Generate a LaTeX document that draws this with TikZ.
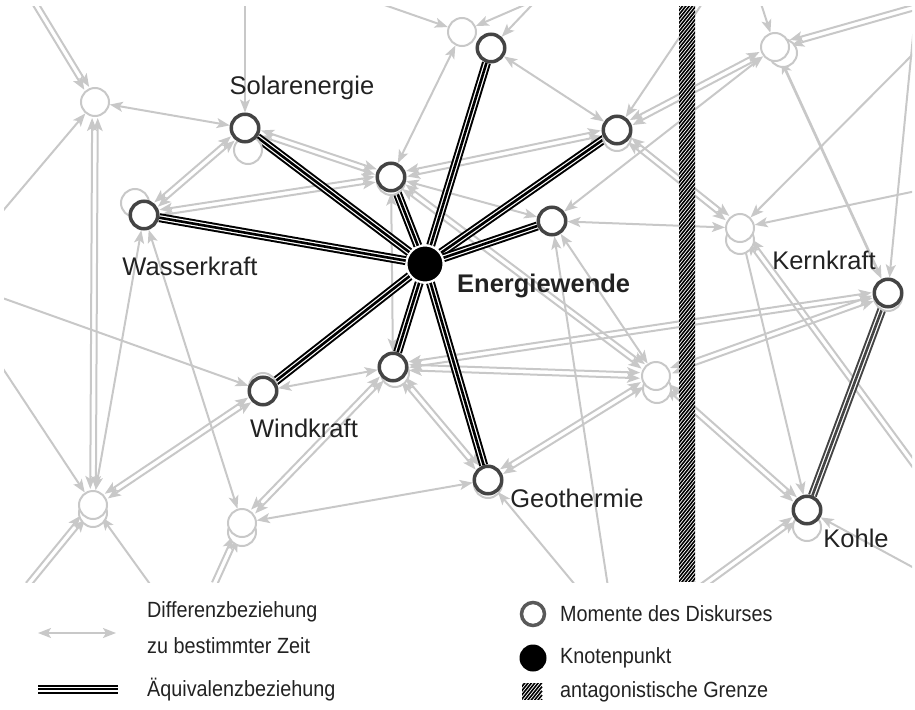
\documentclass[tikz,border=0pt]{standalone}
\usepackage{fontspec}
\setmainfont{Liberation Sans}
\newfontfamily\legendfont[FakeStretch=0.9]{Liberation Sans}
\usetikzlibrary{arrows.meta,calc}
\definecolor{diffGray}{HTML}{C8C8C8}
\definecolor{ringGray}{HTML}{444444}
\definecolor{labelGray}{HTML}{222222}
\pgfdeclarelayer{diffs}
\pgfdeclarelayer{equivs}
\pgfsetlayers{diffs,equivs,main}

% two parallel difference lines between two points
\newcommand{\pairline}[3][<->]{%
  \draw[diff,#1,shorten <=16pt,shorten >=16pt]
    ($(#2)!2.8pt!90:(#3)$) -- ($(#3)!2.8pt!-90:(#2)$);
  \draw[diff,#1,shorten <=16pt,shorten >=16pt]
    ($(#2)!2.8pt!-90:(#3)$) -- ($(#3)!2.8pt!90:(#2)$);
}

\begin{document}
\begin{tikzpicture}[x=1pt,y=-1pt,
  font=\fontsize{25.5}{28}\selectfont,
  >={Stealth[length=13pt,width=10pt,inset=3pt]},
  moment/.style={circle, draw=ringGray, line width=3.5pt, fill=white, minimum size=27.5pt, inner sep=0pt},
  ghost/.style={circle, draw=diffGray, line width=2pt, fill=white, minimum size=28pt, inner sep=0pt},
  hubnode/.style={circle, draw=white, line width=2pt, fill=black, minimum size=37pt, inner sep=0pt},
  diff/.style={draw=diffGray, line width=2pt},
  equiv/.style={draw=black, line width=9pt,
    postaction={draw=white, line width=5pt},
    postaction={draw=black, line width=2.6pt}},
  equivdark/.style={draw=ringGray, line width=9pt,
    postaction={draw=white, line width=5pt},
    postaction={draw=ringGray, line width=2.6pt}},
  label/.style={text=labelGray, inner sep=1pt},
  legtext/.style={text=labelGray, anchor=west, inner sep=0pt, font=\legendfont\fontsize{22}{24}\selectfont}
]
\useasboundingbox (0,0) rectangle (915,709);

% free ends outside the drawing area
\coordinate (e1) at (24,-15);
\coordinate (e2) at (245,-15);
\coordinate (e3) at (330,-14);
\coordinate (e4) at (566,-13);
\coordinate (e5) at (550,-14);
\coordinate (e6) at (714,-14);
\coordinate (e7) at (755,-15);
\coordinate (e8) at (972,-9);
\coordinate (e9) at (918,-15);
\coordinate (e10) at (935,32);
\coordinate (r1) at (940,186);
\coordinate (r2) at (935,493);
\coordinate (b6) at (940,582);
\coordinate (l1) at (-15,232);
\coordinate (l2) at (-20,290);
\coordinate (l3) at (-10,349);
\coordinate (b1) at (18,597);
\coordinate (b2) at (160,598);
\coordinate (b3) at (208,598);
\coordinate (b4) at (586,598);
\coordinate (b5) at (686,598);
\coordinate (b7) at (610,600);

% shadows
\node[ghost] (solar-sh) at (248,150) {};
\node[ghost] (wasser-sh) at (135,203) {};
\node[ghost] (tc-sh) at (391,181) {};
\node[ghost] (ru-sh) at (617,137) {};
\node[ghost] (wind-sh) at (263,387) {};
\node[ghost] (lc-sh) at (395,373) {};
\node[ghost] (geo-sh) at (488,484) {};
\node[ghost] (kern-sh) at (888,297) {};
\node[ghost] (kohle-sh) at (807,527) {};
\node[ghost] (tr-sh) at (783,53) {};
\node[ghost] (rm-sh) at (740,240) {};
\node[ghost] (bb-sh) at (657,389) {};
\node[ghost] (bl-sh) at (93,513) {};
\node[ghost] (bc-sh) at (242,532) {};

% moments
\node[ghost] (tl) at (95,102) {};
\node[ghost] (tlt) at (462,32) {};
\node[ghost] (tr) at (775,47) {};
\node[ghost] (rm) at (740,228) {};
\node[ghost] (bb) at (656,376) {};
\node[ghost] (bl) at (93,505) {};
\node[ghost] (bc) at (242,523) {};
\node[moment] (solar) at (245,128) {};
\node[moment] (wasser) at (144,215) {};
\node[moment] (tc) at (391,177) {};
\node[moment] (top) at (491,48) {};
\node[moment] (ru) at (617,130) {};
\node[moment] (mr) at (552,221) {};
\node[moment] (wind) at (263,391) {};
\node[moment] (lc) at (393,367) {};
\node[moment] (geo) at (488,480) {};
\node[moment] (kern) at (888,293) {};
\node[moment] (kohle) at (807,510) {};
\node[hubnode] (hub) at (425,264) {};

% labels
\node[label] (lab-solar) at (302,88) {Solarenergie};
\node[label] (lab-wasser) at (190,266) {Wasserkraft};
\node[label, anchor=west, font=\fontsize{25.5}{28}\selectfont\bfseries] (lab-hub) at (456,286) {Energiewende};
\node[label] (lab-wind) at (304,428) {Windkraft};
\node[label] (lab-geo) at (577,498) {Geothermie};
\node[label] (lab-kern) at (824,260) {Kernkraft};
\node[label] (lab-kohle) at (856,538) {Kohle};

% differences
\begin{pgfonlayer}{diffs}
\clip (4,7) rectangle (912,582);
\pairline[->]{e1}{tl}
\draw[diff,->] (e2) -- (solar);
\draw[diff,->] (e3) -- (tlt);
\draw[diff,->] (e4) -- (tlt);
\draw[diff,->] (e5) -- (top);
\draw[diff,->] (e6) -- (ru);
\draw[diff,->] (e7) -- (tr);
\pairline[->]{e8}{tr}
\draw[diff,->] (e9) -- (kern);
\draw[diff,->] (e10) -- (rm);
\draw[diff,->] (r1) -- (rm);
\pairline[<-]{rm}{r2}
\draw[diff,->] (b6) -- (kohle);
\draw[diff,->] (l1) -- (tl);
\draw[diff,->] (l2) -- (wind);
\draw[diff,->] (l3) -- (bl);
\pairline[->]{b1}{bl}
\draw[diff,->] (b2) -- (bl);
\pairline[->]{b3}{bc}
\draw[diff,->] (b4) -- (geo);
\pairline[->]{b5}{kohle}
\draw[diff,->] (b7) -- (mr);
\draw[diff,<->] (tl) -- (solar);
\pairline{tl}{bl}
\draw[diff,<->] (tlt) -- (tc);
\pairline{solar}{tc}
\pairline{wasser}{solar}
\pairline{wasser}{tc}
\pairline{tc}{ru}
\draw[diff,<->] (tc) -- (mr);
\draw[diff,<->] (tc) -- (lc);
\pairline{tc}{bb}
\draw[diff,<->] (wasser) -- (bl);
\draw[diff,<->] (wasser) -- (bc);
\pairline{wind}{bl}
\draw[diff,<->] (wind) -- (lc);
\pairline{lc}{bc}
\draw[diff,<->] (bc) -- (geo);
\pairline{lc}{kern}
\pairline{lc}{bb}
\pairline{lc}{geo}
\pairline{geo}{bb}
\draw[diff,<->] (top) -- (ru);
\pairline{ru}{tr}
\draw[diff,<->] (tr) -- (mr);
\pairline{ru}{rm}
\draw[diff,<->] (mr) -- (rm);
\draw[diff,<->] (mr) -- (bb);
\pairline{bb}{kern}
\pairline{bb}{kohle}
\draw[diff,->] (rm) -- (kohle);
\draw[diff,<->,line width=2.7pt] (tr) -- (kern);
\end{pgfonlayer}

% equivalences
\begin{pgfonlayer}{equivs}
\foreach \m in {solar,wasser,tc,top,ru,mr,wind,lc,geo}
  \draw[equiv] (hub) -- (\m);
\draw[equivdark] (kern) -- (kohle);
\end{pgfonlayer}

% antagonistic frontier
\begin{scope}
  \clip (679,7) rectangle (695,581);
  \fill[white] (679,7) rectangle (695,581);
  \foreach \yy in {7,11.2,...,625}
    \draw[line width=1.6pt] (675,\yy) -- ++(24,-30);
\end{scope}

% legend
\coordinate (leg-d1) at (38,633);
\coordinate (leg-d2) at (116,633);
\coordinate (leg-e1) at (38,689);
\coordinate (leg-e2) at (118,689);
\draw[diff,<->] (leg-d1) -- (leg-d2);
\draw[equiv] (leg-e1) -- (leg-e2);
\node[legtext] (leg-t1) at (147,612) {Differenzbeziehung};
\node[legtext] (leg-t2) at (147,646) {zu bestimmter Zeit};
\node[legtext] (leg-t3) at (147,690) {Äquivalenzbeziehung};
\node[moment, minimum size=23pt, draw=black!65] (leg-moment) at (533,614) {};
\node[circle, fill=black, minimum size=27pt, inner sep=0pt] (leg-knot) at (533,658) {};
\begin{scope}
  \clip (522,683) rectangle (548,699);
  \foreach \yy in {683,687.2,...,745}
    \draw[line width=1.6pt] (518,\yy) -- ++(24,-30);
\end{scope}
\node[legtext] (leg-t4) at (560,614) {Momente des Diskurses};
\node[legtext] (leg-t5) at (560,658) {Knotenpunkt};
\node[legtext] (leg-t6) at (560,692) {antagonistische Grenze};
\end{tikzpicture}
\end{document}
